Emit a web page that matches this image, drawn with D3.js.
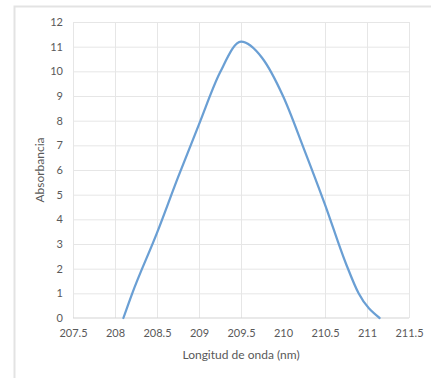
<!DOCTYPE html>
<html>
<head>
<meta charset="utf-8">
<script src="https://cdn.jsdelivr.net/npm/d3@7"></script>
<style>
  html, body { margin: 0; padding: 0; background: #fff; }
  svg { display: block; }
  text { font-family: Lato, "Open Sans", sans-serif; fill: #595959; }
</style>
</head>
<body>
<svg id="chart" width="431" height="378"></svg>
<script>
// Wavelength (nm)
const wavelength = [208.1, 208.2, 208.5, 208.75, 209, 209.25, 209.5, 209.75, 210, 210.25, 210.5, 210.75, 210.9, 211.15];
// Absorbance
const absorbance = [0, 0.95, 3.45, 5.7, 7.85, 9.95, 11.2, 10.55, 9.0, 6.85, 4.6, 2.2, 1.0, 0];
const xTicks = [207.5, 208, 208.5, 209, 209.5, 210, 210.5, 211, 211.5];
const xGridTicks = [207.5, 208, 208.5, 209, 209.5, 210.5, 211, 211.5];
const yTicks = [0, 1, 2, 3, 4, 5, 6, 7, 8, 9, 10, 11, 12];
const xTitle = "Longitud de onda (nm)";
const yTitle = "Absorbancia";

const svg = d3.select("#chart");
const mL = 73, mR = 409, mT = 22, mB = 318;

// outer chart frame
svg.append("rect").attr("x", 14.5).attr("y", 6.5).attr("width", 440).attr("height", 400)
  .attr("fill", "#fff").attr("stroke", "#e3e3e3").attr("stroke-width", 2);

const x = d3.scaleLinear().domain([207.5, 211.5]).range([mL, mR]);
const y = d3.scaleLinear().domain([0, 12]).range([mB, mT]);

// horizontal gridlines
svg.append("g").attr("transform", `translate(${mL},0)`)
  .call(d3.axisLeft(y).tickValues(yTicks.filter(d => d > 0)).tickSize(-(mR - mL)).tickFormat(""))
  .call(g => g.select(".domain").remove())
  .call(g => g.selectAll("line").attr("stroke", "#e6e6e6").attr("stroke-width", 1));

// vertical gridlines
svg.append("g").attr("transform", `translate(0,${mB})`)
  .call(d3.axisBottom(x).tickValues(xGridTicks).tickSize(-(mB - mT)).tickFormat(""))
  .call(g => g.select(".domain").remove())
  .call(g => g.selectAll("line").attr("stroke", "#e6e6e6").attr("stroke-width", 1));

// x axis line
svg.append("line").attr("x1", mL).attr("x2", mR).attr("y1", y(0)).attr("y2", y(0))
  .attr("stroke", "#d4d4d4").attr("stroke-width", 1.2);

// y tick labels
svg.append("g").attr("transform", `translate(${mL},0)`)
  .call(d3.axisLeft(y).tickValues(yTicks).tickSize(0).tickPadding(10).tickFormat(d3.format("d")))
  .call(g => g.select(".domain").remove())
  .call(g => g.selectAll("text").style("font-size", "11px").style("fill", "#595959").attr("font-family", null));

// x tick labels
svg.append("g").attr("transform", `translate(0,${mB})`)
  .call(d3.axisBottom(x).tickValues(xTicks).tickSize(0).tickPadding(11).tickFormat(d => String(d)))
  .call(g => g.select(".domain").remove())
  .call(g => g.selectAll("text").style("font-size", "11px").style("fill", "#595959").attr("font-family", null));

// titles
svg.append("text").attr("x", (mL + mR) / 2).attr("y", 359).attr("text-anchor", "middle")
  .style("font-size", "12px").text(xTitle);
svg.append("text").attr("transform", `translate(44,${(mT + mB) / 2}) rotate(-90)`)
  .attr("text-anchor", "middle").style("font-size", "12px").text(yTitle);

// curve
const data = wavelength.map((w, i) => [w, absorbance[i]]);
svg.append("path").datum(data)
  .attr("fill", "none").attr("stroke", "#6a9fd4").attr("stroke-width", 2.25)
  .attr("stroke-linecap", "round")
  .attr("d", d3.line().x(d => x(d[0])).y(d => y(d[1])).curve(d3.curveMonotoneX));
</script>
</body>
</html>
